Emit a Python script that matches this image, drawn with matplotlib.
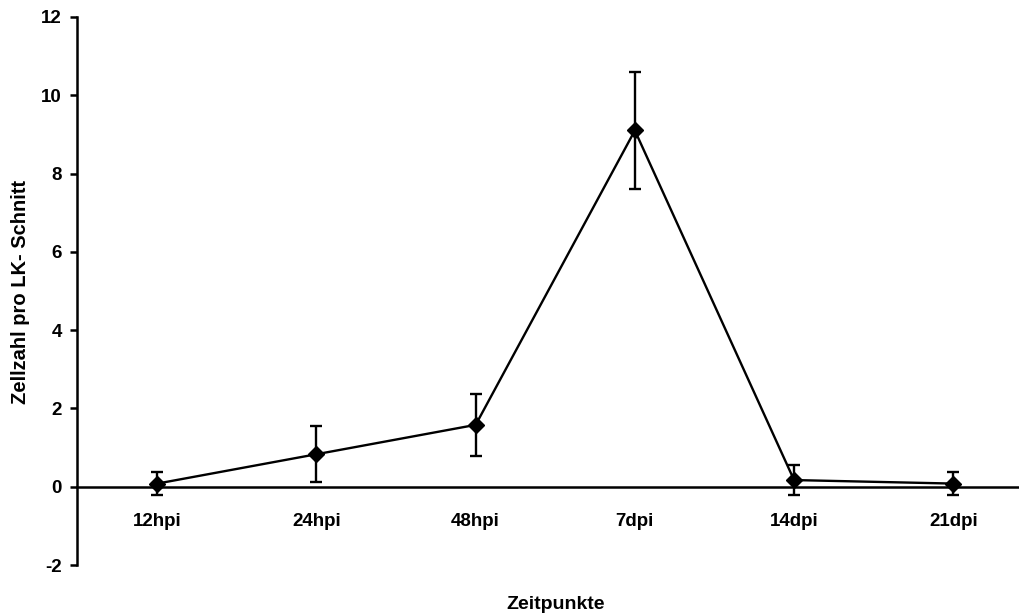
import numpy as np
import matplotlib
matplotlib.use("Agg")
import matplotlib.pyplot as plt
import matplotlib.ticker as ticker

plt.rcParams['font.family'] = ['Liberation Sans', 'DejaVu Sans']
plt.rcParams['font.weight'] = 'bold'
plt.rcParams['axes.unicode_minus'] = False

# --- Data ---
TIMEPOINTS = ["12hpi", "24hpi", "48hpi", "7dpi", "14dpi", "21dpi"]
CELLS = [0.08, 0.83, 1.58, 9.1, 0.17, 0.08]
ERR = [0.29, 0.72, 0.79, 1.5, 0.38, 0.29]

x = np.arange(len(TIMEPOINTS))

fig = plt.figure(figsize=(10.19, 6.13), dpi=100)
ax = fig.add_axes([0.0756, 0.0783, 0.9244, 0.894])

ax.errorbar(x, CELLS, yerr=ERR, color="black", lw=1.7, marker="D", ms=8,
            ecolor="black", elinewidth=1.7, capsize=4, capthick=1.7)

ax.set_xlim(-0.504, 5.413)
ax.set_ylim(-2, 12)
ax.yaxis.set_major_locator(ticker.MultipleLocator(2))

ax.spines["top"].set_visible(False)
ax.spines["right"].set_visible(False)
ax.spines["bottom"].set_position(("data", 0))
for s in ("left", "bottom"):
    ax.spines[s].set_linewidth(1.8)

ax.set_xticks(x)
ax.set_xticklabels(TIMEPOINTS)
ax.tick_params(axis="x", length=0, pad=19, labelsize=13.5)
ax.tick_params(axis="y", direction="out", length=5, width=1.8, pad=6,
               labelsize=13.5)

ax.set_xlabel("Zeitpunkte", fontsize=14, fontweight="bold")
ax.xaxis.set_label_coords(0.5085, -0.056)
ax.set_ylabel("Zellzahl pro LK- Schnitt", fontsize=14.5, fontweight="bold")
ax.yaxis.set_label_coords(-0.050, 0.498)

fig.savefig("out.png", dpi=100)
